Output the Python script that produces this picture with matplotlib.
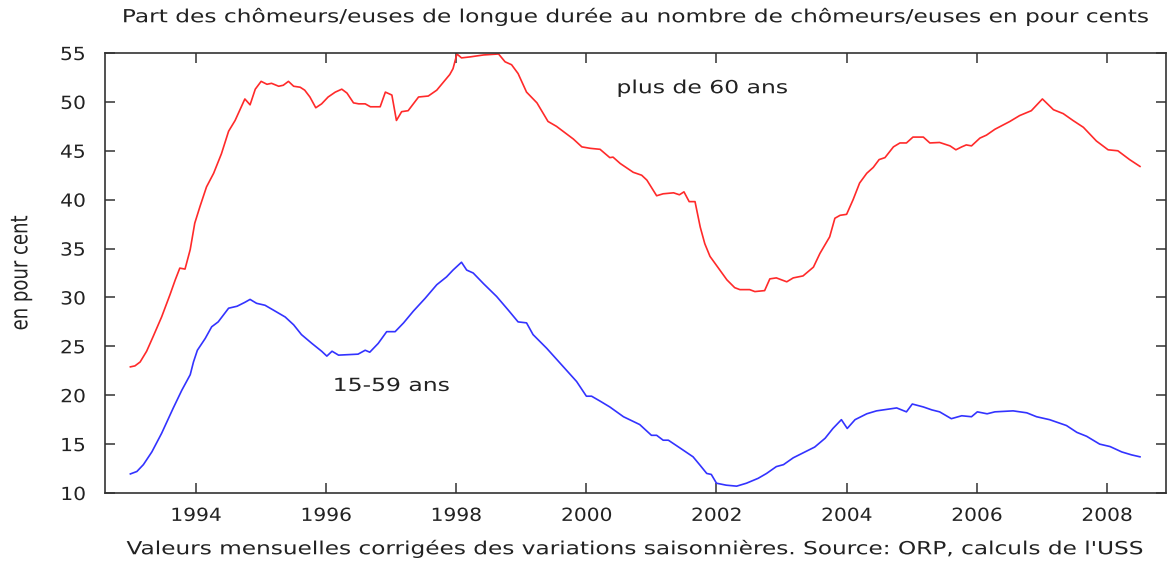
import matplotlib
matplotlib.use("Agg")
import matplotlib.pyplot as plt
import matplotlib.patheffects as pe
from matplotlib.transforms import Affine2D

# values (decimal year, percent)
red_years = [
    1992.99, 1993.06, 1993.14, 1993.24, 1993.34, 1993.47, 1993.60, 1993.68, 1993.75, 1993.83,
    1993.91, 1993.98, 1994.06, 1994.16, 1994.27, 1994.39, 1994.50, 1994.60, 1994.75, 1994.83,
    1994.91, 1995.00, 1995.09, 1995.16, 1995.27, 1995.34, 1995.42, 1995.50, 1995.60, 1995.67,
    1995.75, 1995.84, 1995.93, 1996.03, 1996.14, 1996.24, 1996.32, 1996.42, 1996.50, 1996.60,
    1996.68, 1996.83, 1996.91, 1997.01, 1997.08, 1997.16, 1997.26, 1997.42, 1997.57, 1997.70,
    1997.90, 1997.95, 1998.01, 1998.08, 1998.21, 1998.42, 1998.65, 1998.75, 1998.85, 1998.95,
    1999.08, 1999.24, 1999.41, 1999.54, 1999.80, 1999.93, 2000.06, 2000.21, 2000.36, 2000.41,
    2000.52, 2000.72, 2000.85, 2000.93, 2001.08, 2001.18, 2001.34, 2001.43, 2001.50, 2001.58,
    2001.67, 2001.75, 2001.82, 2001.90, 2002.03, 2002.16, 2002.28, 2002.36, 2002.51, 2002.59,
    2002.74, 2002.82, 2002.92, 2003.08, 2003.18, 2003.33, 2003.49, 2003.59, 2003.74, 2003.82,
    2003.90, 2004.00, 2004.10, 2004.20, 2004.31, 2004.41, 2004.50, 2004.59, 2004.72, 2004.82,
    2004.92, 2005.02, 2005.18, 2005.28, 2005.43, 2005.59, 2005.68, 2005.77, 2005.84, 2005.92,
    2006.05, 2006.15, 2006.28, 2006.51, 2006.66, 2006.84, 2007.01, 2007.18, 2007.33, 2007.48,
    2007.64, 2007.84, 2008.02, 2008.17, 2008.35, 2008.51,
]
red_vals = [
    22.9, 23.0, 23.4, 24.5, 26.0, 28.0, 30.3, 31.8, 33.0, 32.9,
    34.9, 37.6, 39.3, 41.3, 42.7, 44.7, 47.0, 48.1, 50.3, 49.7,
    51.3, 52.1, 51.8, 51.9, 51.6, 51.7, 52.1, 51.6, 51.5, 51.2,
    50.5, 49.4, 49.8, 50.5, 51.0, 51.3, 50.9, 49.9, 49.8, 49.8,
    49.5, 49.5, 51.0, 50.7, 48.1, 49.0, 49.1, 50.5, 50.6, 51.2,
    52.8, 53.4, 54.9, 54.5, 54.6, 54.8, 54.9, 54.1, 53.8, 52.9,
    51.0, 49.9, 48.0, 47.5, 46.2, 45.4, 45.25, 45.15, 44.3, 44.35,
    43.7, 42.8, 42.5, 42.0, 40.4, 40.6, 40.7, 40.5, 40.8, 39.8,
    39.8, 37.2, 35.5, 34.2, 33.0, 31.8, 31.0, 30.8, 30.8, 30.6,
    30.7, 31.9, 32.0, 31.6, 32.0, 32.2, 33.1, 34.5, 36.2, 38.1,
    38.4, 38.5, 40.0, 41.7, 42.7, 43.3, 44.1, 44.3, 45.4, 45.8,
    45.8, 46.4, 46.4, 45.8, 45.85, 45.5, 45.1, 45.4, 45.6, 45.5,
    46.3, 46.6, 47.2, 48.0, 48.6, 49.1, 50.3, 49.2, 48.8, 48.1,
    47.4, 46.0, 45.1, 45.0, 44.1, 43.4,
]

blue_years = [
    1992.99, 1993.09, 1993.19, 1993.32, 1993.47, 1993.65, 1993.78, 1993.91, 1993.96, 1994.02,
    1994.14, 1994.24, 1994.34, 1994.50, 1994.63, 1994.75, 1994.83, 1994.93, 1995.06, 1995.19,
    1995.37, 1995.50, 1995.62, 1995.78, 1995.93, 1996.01, 1996.09, 1996.19, 1996.49, 1996.60,
    1996.67, 1996.80, 1996.93, 1997.06, 1997.19, 1997.34, 1997.52, 1997.70, 1997.85, 1997.95,
    1998.08, 1998.16, 1998.26, 1998.42, 1998.62, 1998.80, 1998.95, 1999.08, 1999.18, 1999.39,
    1999.62, 1999.85, 2000.00, 2000.08, 2000.21, 2000.36, 2000.57, 2000.82, 2001.00, 2001.08,
    2001.18, 2001.26, 2001.44, 2001.64, 2001.74, 2001.85, 2001.92, 2002.00, 2002.15, 2002.31,
    2002.46, 2002.64, 2002.77, 2002.92, 2003.03, 2003.18, 2003.33, 2003.51, 2003.67, 2003.79,
    2003.92, 2004.01, 2004.13, 2004.31, 2004.46, 2004.77, 2004.92, 2005.01, 2005.18, 2005.31,
    2005.43, 2005.61, 2005.77, 2005.92, 2006.01, 2006.16, 2006.28, 2006.56, 2006.77, 2006.92,
    2007.12, 2007.38, 2007.54, 2007.69, 2007.89, 2008.05, 2008.23, 2008.38, 2008.51,
]
blue_vals = [
    11.95, 12.2, 12.9, 14.2, 16.1, 18.7, 20.5, 22.1, 23.4, 24.6,
    25.8, 27.0, 27.5, 28.9, 29.1, 29.5, 29.8, 29.4, 29.2, 28.7,
    28.0, 27.2, 26.2, 25.3, 24.5, 24.0, 24.5, 24.1, 24.2, 24.6,
    24.4, 25.3, 26.5, 26.5, 27.4, 28.6, 29.9, 31.3, 32.1, 32.8,
    33.6, 32.8, 32.5, 31.4, 30.1, 28.7, 27.5, 27.4, 26.2, 24.8,
    23.1, 21.4, 19.9, 19.9, 19.4, 18.8, 17.8, 17.0, 15.9, 15.9,
    15.4, 15.4, 14.6, 13.7, 12.9, 12.0, 11.9, 11.0, 10.8, 10.7,
    11.0, 11.5, 12.0, 12.7, 12.9, 13.6, 14.1, 14.7, 15.6, 16.6,
    17.5, 16.6, 17.5, 18.1, 18.4, 18.7, 18.3, 19.1, 18.8, 18.5,
    18.3, 17.6, 17.9, 17.8, 18.3, 18.1, 18.3, 18.4, 18.2, 17.8,
    17.5, 16.9, 16.2, 15.8, 15.0, 14.75, 14.2, 13.9, 13.7,
]

x_ticks = [1994, 1996, 1998, 2000, 2002, 2004, 2006, 2008]
y_ticks = [10, 15, 20, 25, 30, 35, 40, 45, 50, 55]

title = "Part des chômeurs/euses de longue durée au nombre de chômeurs/euses en pour cents"
xlabel = "Valeurs mensuelles corrigées des variations saisonnières. Source: ORP, calculs de l'USS"
ylabel = "en pour cent"

FS = 13
TXT = "#222222"


class HStretch(pe.AbstractPathEffect):
    """Draw text widened horizontally (the source image is stretched sideways)."""
    def __init__(self, sx, anchor="center"):
        super().__init__()
        self.sx = sx
        self.anchor = anchor

    def draw_path(self, renderer, gc, tpath, affine, rgbFace=None):
        ext = tpath.get_extents(affine)
        if self.anchor == "left":
            cx = ext.x0
        elif self.anchor == "right":
            cx = ext.x1
        else:
            cx = (ext.x0 + ext.x1) / 2
        affine = affine + Affine2D().translate(-cx, 0).scale(self.sx, 1).translate(cx, 0)
        renderer.draw_path(gc, tpath, affine, rgbFace)


fig = plt.figure(figsize=(11.72, 5.64), dpi=100)
ax = fig.add_axes([105 / 1172, 1 - 493 / 564, 1061 / 1172, 440 / 564])

ax.plot(red_years, red_vals, color="#ff2a2a", lw=1.2)
ax.plot(blue_years, blue_vals, color="#3333ff", lw=1.2)

ax.set_xlim(1992.60, 2008.91)
ax.set_ylim(10, 55)
ax.set_xticks(x_ticks)
ax.set_yticks(y_ticks)
ax.tick_params(direction="in", length=7.5, width=1.1, color="#333333",
               top=True, right=True, labelsize=FS, labelcolor=TXT)
ax.tick_params(axis="x", pad=10)
ax.tick_params(axis="y", pad=14)
for s in ax.spines.values():
    s.set_linewidth(1.2)
    s.set_color("#333333")

for lab in ax.get_xticklabels():
    lab.set_path_effects([HStretch(1.12)])
for lab in ax.get_yticklabels():
    lab.set_path_effects([HStretch(1.12, "right")])

ax.text(2000.47, 51.4, "plus de 60 ans", fontsize=FS, color=TXT, va="center", ha="left",
        path_effects=[HStretch(1.3, "left")])
ax.text(1996.11, 20.95, "15-59 ans", fontsize=FS, color=TXT, va="center", ha="left",
        path_effects=[HStretch(1.3, "left")])

fig.text(635 / 1172, 1 - 17 / 564, title, fontsize=FS, color=TXT, ha="center", va="center",
         path_effects=[HStretch(1.29)])
fig.text(635 / 1172, 1 - 549 / 564, xlabel, fontsize=FS, color=TXT, ha="center", va="center",
         path_effects=[HStretch(1.285)])
fig.text(21 / 1172, 1 - 273 / 564, ylabel, fontsize=FS, color=TXT, ha="center", va="center",
         rotation=90, path_effects=[HStretch(1.3)])

fig.savefig("out.png", dpi=100)
